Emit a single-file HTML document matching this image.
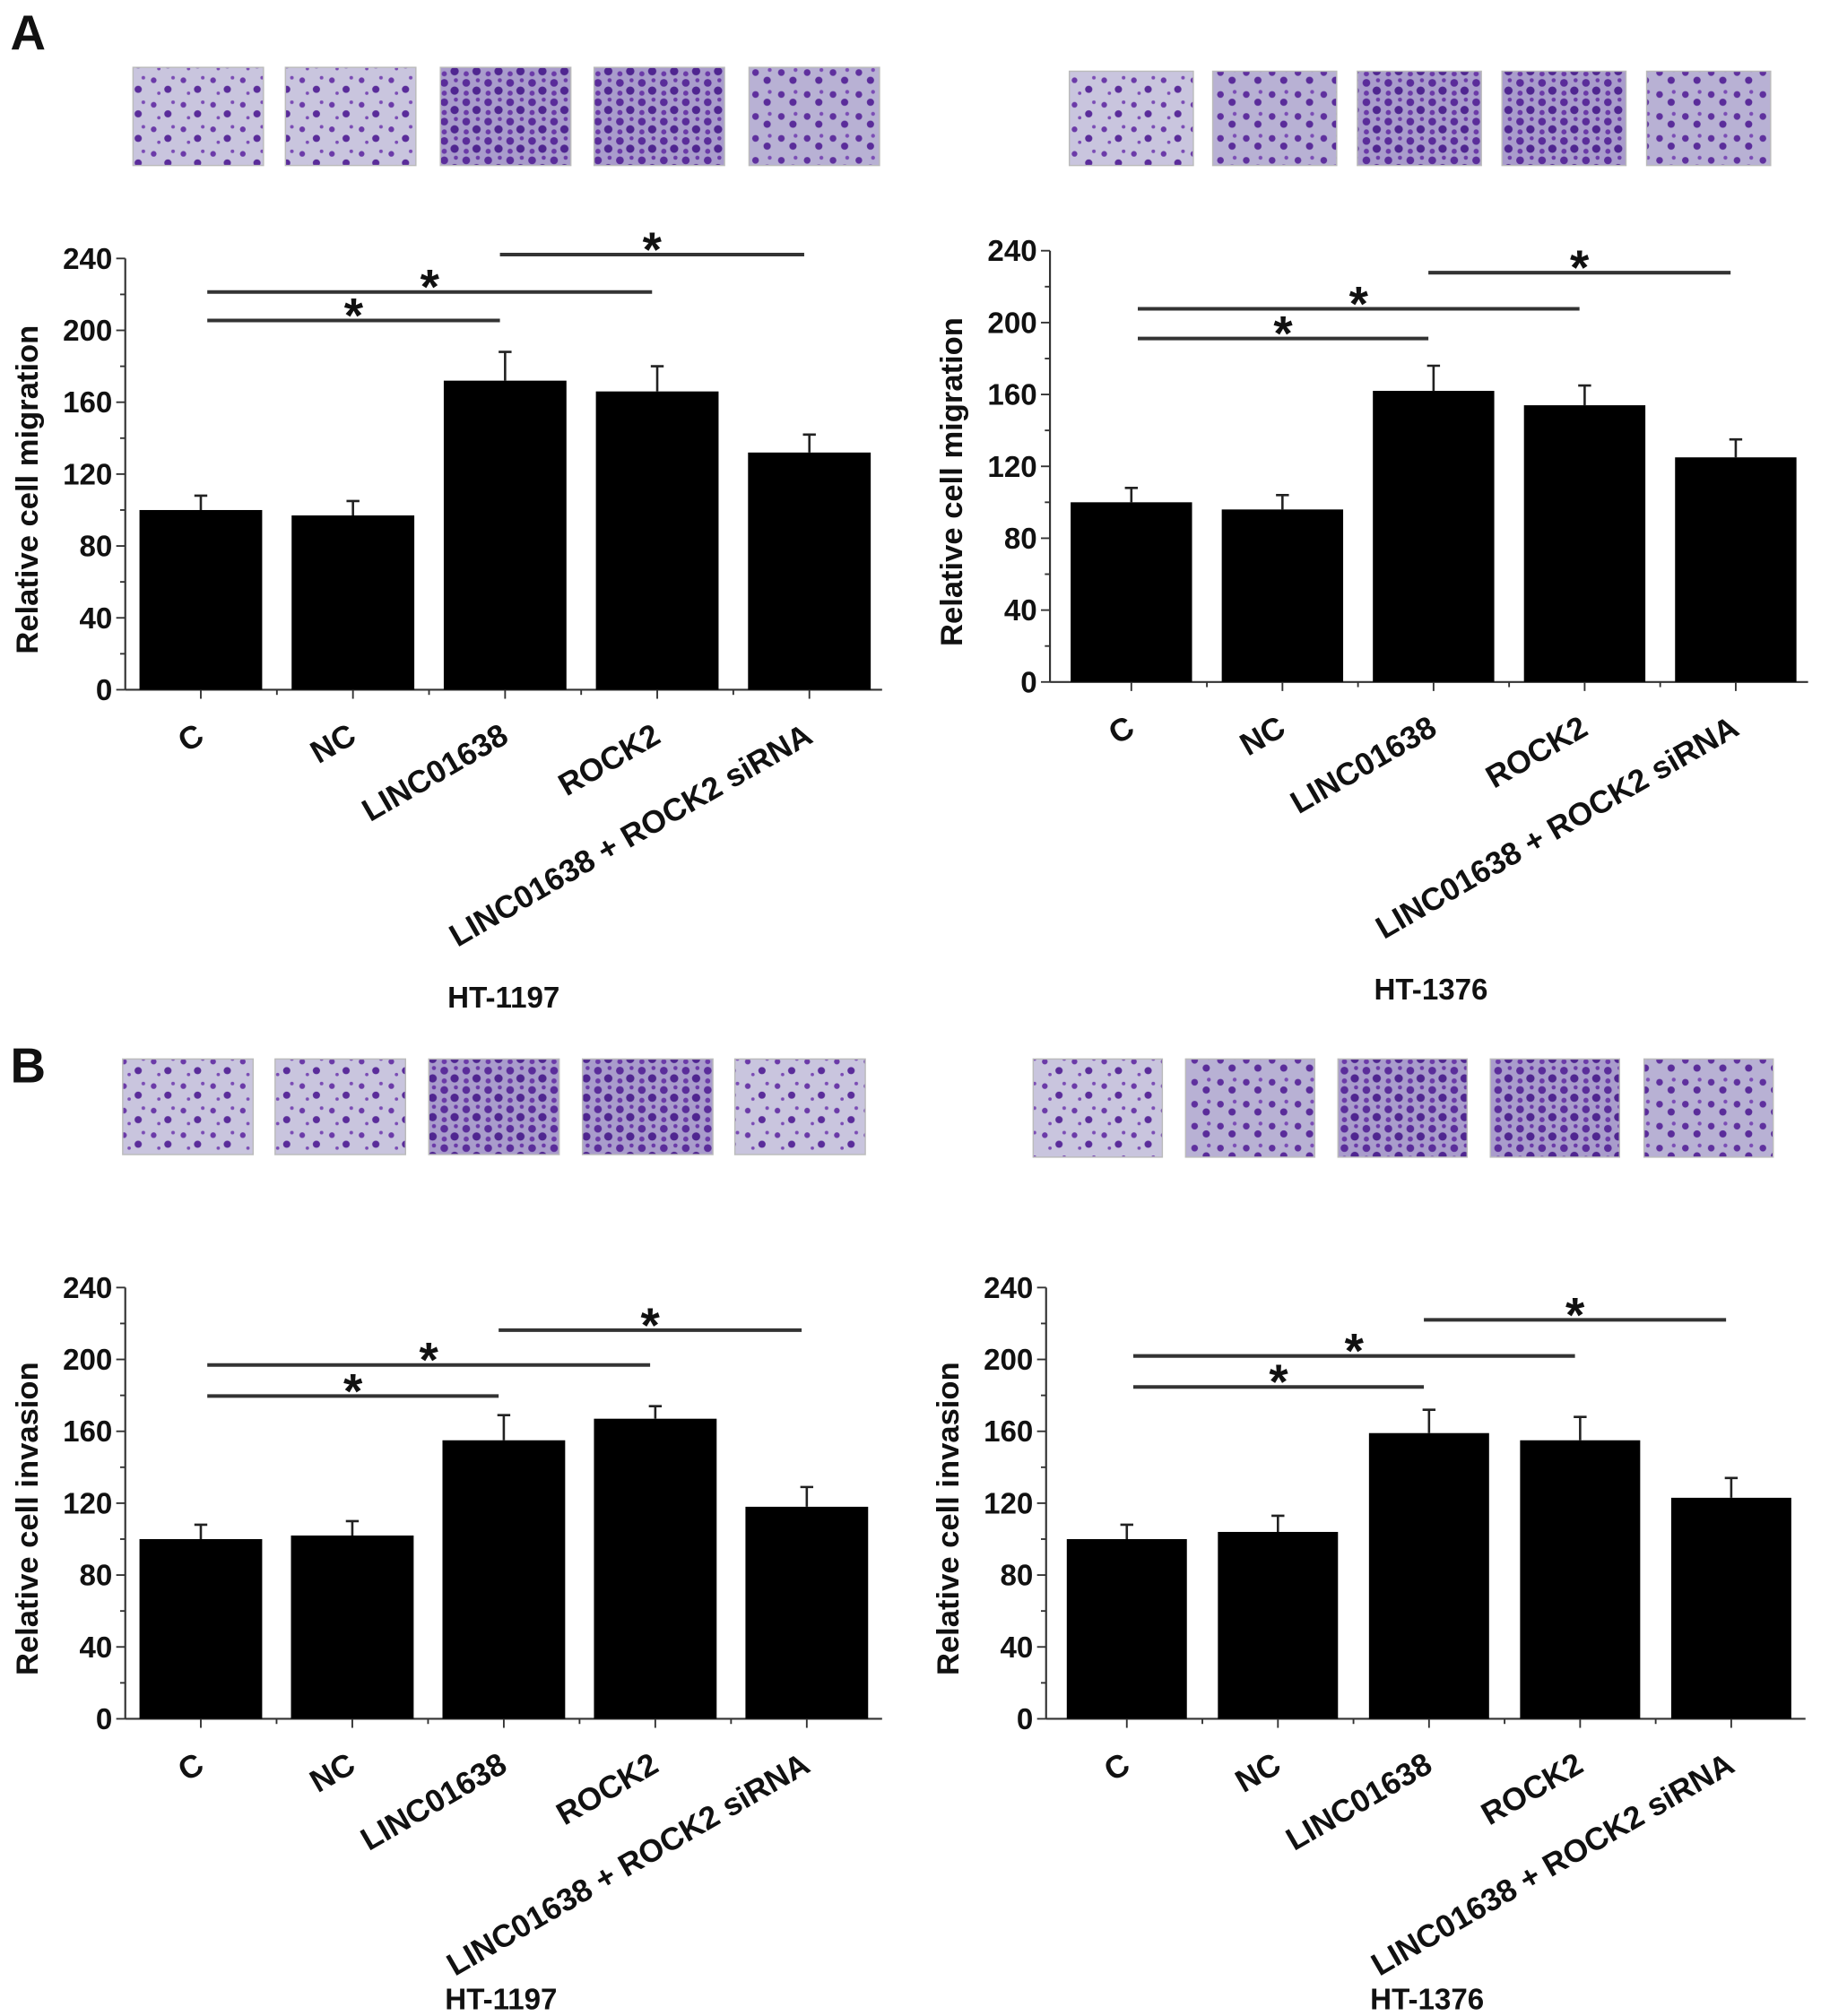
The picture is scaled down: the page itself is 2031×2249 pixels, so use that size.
<!DOCTYPE html>
<html><head><meta charset="utf-8"><style>
html,body{margin:0;padding:0;background:#fff}
svg{display:block}
text{font-family:"Liberation Sans",Arial,sans-serif;font-weight:bold;fill:#111}
</style></head><body>
<svg id="fig" xmlns="http://www.w3.org/2000/svg" width="2031" height="2249" viewBox="0 0 1410 1561">
<defs>
<pattern id="cells1" width="23" height="19" patternUnits="userSpaceOnUse">
<rect width="23" height="19" fill="#c9c5de"/>
<circle cx="4" cy="5" r="2.2" fill="#6b3aa8"/><circle cx="15" cy="12" r="2.8" fill="#5a2c9a"/><circle cx="19" cy="3" r="1.4" fill="#7b4cb5"/><circle cx="8" cy="15" r="1.3" fill="#7b4cb5"/>
</pattern>
<pattern id="cells2" width="17" height="15" patternUnits="userSpaceOnUse">
<rect width="17" height="15" fill="#a99ccc"/>
<circle cx="4" cy="4" r="3" fill="#5a2c9a"/><circle cx="12" cy="10" r="3.2" fill="#4f2590"/><circle cx="13" cy="2" r="1.6" fill="#6b3aa8"/><circle cx="4" cy="12" r="2" fill="#6b3aa8"/>
</pattern>
<pattern id="cells3" width="20" height="17" patternUnits="userSpaceOnUse">
<rect width="20" height="17" fill="#b8b1d4"/>
<circle cx="5" cy="5" r="2.6" fill="#5f309e"/><circle cx="14" cy="11" r="2.8" fill="#5a2c9a"/><circle cx="16" cy="3" r="1.5" fill="#7b4cb5"/>
</pattern>
</defs>
<text x="8" y="38" font-size="38">A</text>
<text x="8" y="838" font-size="38">B</text>
<g id="charts"></g>
</svg>
<script>
// ---- data ----
var categories = ["C", "NC", "LINC01638", "ROCK2", "LINC01638 + ROCK2 siRNA"];
var yTicks = [0, 40, 80, 120, 160, 200, 240];
var migration1197 = [100, 97, 172, 166, 132];
var migration1197Err = [108, 105, 188, 180, 142];
var migration1376 = [100, 96, 162, 154, 125];
var migration1376Err = [108, 104, 176, 165, 135];
var invasion1197 = [100, 102, 155, 167, 118];
var invasion1197Err = [108, 110, 169, 174, 129];
var invasion1376 = [100, 104, 159, 155, 123];
var invasion1376Err = [108, 113, 172, 168, 134];
var sigPairs = [[0, 2], [0, 3], [2, 4]];
var panelTitles = ["HT-1197", "HT-1376", "HT-1197", "HT-1376"];
var yTitles = ["Relative cell migration", "Relative cell migration", "Relative cell invasion", "Relative cell invasion"];

var NS = "http://www.w3.org/2000/svg";
var root = document.getElementById("charts");
function mk(tag, attrs, parent) {
  var e = document.createElementNS(NS, tag);
  for (var k in attrs) e.setAttribute(k, attrs[k]);
  (parent || root).appendChild(e);
  return e;
}

var panels = [
  {ax: 97, y0: 534, y240: 200, x0: 108, step: 117.8, bw: 95, right: 683, sig: [248, 226, 197], img: {y: 52, h: 76, xs: [103, 221, 341, 460, 580], w: 101}, title: [390, 780], vals: migration1197, errs: migration1197Err, pats: [1, 1, 2, 2, 3]},
  {ax: 813, y0: 528, y240: 194, x0: 829, step: 117, bw: 94, right: 1400, sig: [262, 239, 211], img: {y: 55, h: 73, xs: [828, 939, 1051, 1163, 1275], w: 96}, title: [1108, 774], vals: migration1376, errs: migration1376Err, pats: [1, 3, 2, 2, 3]},
  {ax: 97, y0: 1331, y240: 997, x0: 108, step: 117.3, bw: 95, right: 683, sig: [1081, 1057, 1030], img: {y: 820, h: 74, xs: [95, 213, 332, 451, 569], w: 101}, title: [388, 1556], vals: invasion1197, errs: invasion1197Err, pats: [1, 1, 2, 2, 1]},
  {ax: 810, y0: 1331, y240: 997, x0: 826, step: 117, bw: 93, right: 1398, sig: [1074, 1050, 1022], img: {y: 820, h: 76, xs: [800, 918, 1036, 1154, 1273], w: 100}, title: [1105, 1556], vals: invasion1376, errs: invasion1376Err, pats: [1, 3, 2, 2, 3]}
];

panels.forEach(function (p, pi) {
  var g = mk("g", {});
  
  
  function yS(v) { return p.y0 - (v / 240) * (p.y0 - p.y240); }
  function xC(i) { return p.x0 + p.bw / 2 + i * p.step; }
  p.img.xs.forEach(function (ix, i) {
    var r = mk("rect", {x: ix, y: p.img.y, width: p.img.w, height: p.img.h, fill: "url(#cells" + p.pats[i] + ")", stroke: "#bbb", "stroke-width": 1}, g);
    
    
  });
  var ya = mk("line", {x1: p.ax, y1: p.y240, x2: p.ax, y2: p.y0, stroke: "#333", "stroke-width": 1.5}, g);
  
  
  var xa = mk("line", {x1: p.ax, y1: p.y0, x2: p.right, y2: p.y0, stroke: "#333", "stroke-width": 1.5}, g);
  
  
  for (var v = 0; v <= 240; v += 20) {
    var major = v % 40 === 0;
    mk("line", {x1: p.ax - (major ? 7 : 4), y1: yS(v), x2: p.ax, y2: yS(v), stroke: "#333", "stroke-width": 1.3}, g);
  }
  yTicks.forEach(function (t) {
    var tl = mk("text", {x: p.ax - 10, y: yS(t) + 8, "font-size": 23, "text-anchor": "end"}, g);
    tl.textContent = t;
    
    
  });
  var yt = mk("text", {x: 0, y: 0, "font-size": 24, "text-anchor": "middle", transform: "translate(" + (p.ax - 68) + "," + ((p.y0 + p.y240) / 2 + 12) + ") rotate(-90)"}, g);
  yt.textContent = yTitles[pi];
  
  
  categories.forEach(function (c, i) {
    var cx = xC(i);
    var b = mk("rect", {x: cx - p.bw / 2, y: yS(p.vals[i]), width: p.bw, height: p.y0 - yS(p.vals[i]), fill: "#000"}, g);
    
    
    var e = mk("path", {d: "M" + cx + "," + yS(p.vals[i]) + "V" + yS(p.errs[i]) + "M" + (cx - 5) + "," + yS(p.errs[i]) + "H" + (cx + 5), stroke: "#222", "stroke-width": 1.8, fill: "none"}, g);
    
    
    mk("line", {x1: cx, y1: p.y0, x2: cx, y2: p.y0 + 7, stroke: "#333", "stroke-width": 1.3}, g);
    if (i < categories.length - 1) mk("line", {x1: cx + p.step / 2, y1: p.y0, x2: cx + p.step / 2, y2: p.y0 + 4, stroke: "#333", "stroke-width": 1.3}, g);
    var xl = mk("text", {x: 0, y: 0, "font-size": 24.5, "text-anchor": "end", transform: "translate(" + (cx + 4) + "," + (p.y0 + 40) + ") rotate(-30)"}, g);
    xl.textContent = c;
    
    
  });
  sigPairs.forEach(function (sp, k) {
    var x1 = xC(sp[0]) + 5, x2 = xC(sp[1]) - 4;
    if (sp[0] === 2) x1 = xC(2) - 4;
    var l = mk("line", {x1: x1, y1: p.sig[k], x2: x2, y2: p.sig[k], stroke: "#333", "stroke-width": 2.8}, g);
    
    
    var s = mk("text", {x: (x1 + x2) / 2, y: p.sig[k] + 9, "font-size": 38, "text-anchor": "middle"}, g);
    s.textContent = "*";
    
    
  });
  var tt = mk("text", {x: p.title[0], y: p.title[1], "font-size": 23, "text-anchor": "middle"}, g);
  tt.textContent = panelTitles[pi];
  
  
});
</script>
</body></html>
